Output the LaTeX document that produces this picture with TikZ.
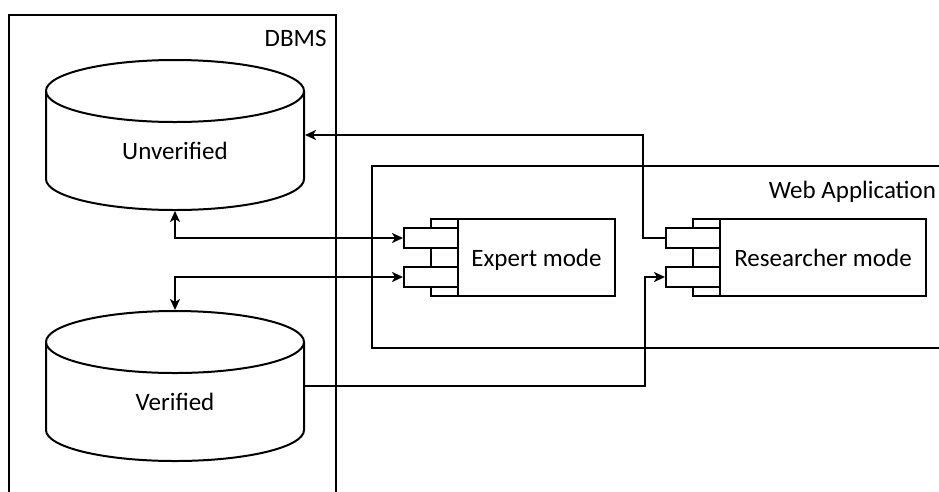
\documentclass[tikz,border=0pt]{standalone}
\usepackage{fontspec}
\setmainfont{Carlito}
\usetikzlibrary{arrows.meta}
\begin{document}
\begin{tikzpicture}[x=1pt,y=-1pt,line width=2pt,
  mytip/.tip={Stealth[length=11pt,width=10pt,inset=3pt]},
  lbl/.style={inner sep=0pt,font=\fontsize{25}{30}\selectfont},
  box/.style={draw,fill=white,inner sep=0pt},
  port/.style={box,minimum width=54pt,minimum height=20pt},
  strip/.style={box,minimum width=27pt,minimum height=77pt},
  area/.style={inner sep=0pt}]
\useasboundingbox (0,0) rectangle (939,491);
\clip (0,0) rectangle (939,491);
% frames
\draw (9,500) -- (9,15) -- (336,15) -- (336,500);
\node[lbl,anchor=base east] (dbms) at (327.5,46.7) {DBMS};
\draw (950,166) -- (372,166) -- (372,348) -- (950,348);
\node[lbl,anchor=base east] (webapp) at (937,198.3) {Web Application};
% cylinders
\draw[fill=white] (46,91) -- (46,179) arc[start angle=180,end angle=0,x radius=129,y radius=31] -- (304,91);
\draw (175,91) ellipse[x radius=129,y radius=31];
\node[area,minimum width=258pt,minimum height=150pt] (unv) at (175,135) {};
\node[lbl,anchor=base] (unvl) at (175,159.3) {Unverified};
\draw[fill=white] (46,342) -- (46,430) arc[start angle=180,end angle=0,x radius=129,y radius=31] -- (304,342);
\draw (175,342) ellipse[x radius=129,y radius=31];
\node[area,minimum width=258pt,minimum height=150pt] (ver) at (175,386) {};
\node[lbl,anchor=base] (verl) at (175,410.7) {Verified};
% components
\node[strip] (es) at (444.5,257.5) {};
\node[box,minimum width=157pt,minimum height=77pt] (expert) at (536.5,257.5) {};
\node[lbl,anchor=base] (expertl) at (536.5,266) {Expert mode};
\node[port] (ep1) at (431,238) {};
\node[port] (ep2) at (431,277) {};
\node[strip] (rs) at (706.5,257.5) {};
\node[box,minimum width=206pt,minimum height=77pt] (res) at (823,257.5) {};
\node[lbl,anchor=base] (resl) at (823,266) {Researcher mode};
\node[port] (rp1) at (693,238) {};
\node[port] (rp2) at (693,277) {};
% connectors
\coordinate (b1) at (643,135);
\coordinate (b2) at (645,386);
\draw[mytip-mytip] (unv.south) |- (ep1.west);
\draw[mytip-mytip] (ver.north) |- (ep2.west);
\draw[-mytip] (rp1.west) -| (b1) -- (unv.east);
\draw[-mytip] (ver.east) -- (b2) |- (rp2.west);
\end{tikzpicture}
\end{document}
